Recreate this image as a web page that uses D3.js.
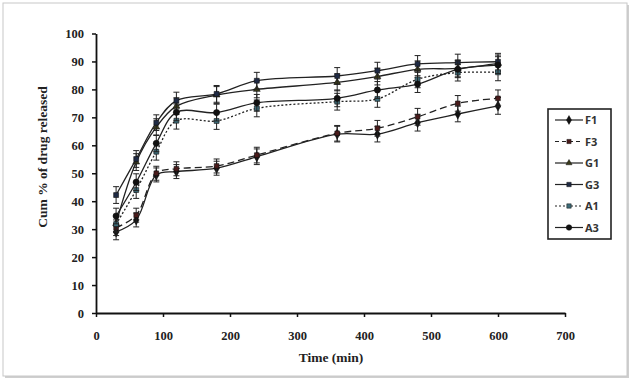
<!DOCTYPE html>
<html><head><meta charset="utf-8">
<script src="https://cdn.jsdelivr.net/npm/d3@7/dist/d3.min.js"></script>
<style>body{margin:0;background:#fff}svg{display:block}</style>
</head><body><svg id="c" width="633" height="380"></svg>
<script>
const times = [30, 60, 90, 120, 180, 240, 360, 420, 480, 540, 600];
const seriesNames = ["F1", "F3", "G1", "G3", "A1", "A3"];
const F1 = [29.0, 33.3, 49.4, 50.6, 51.8, 55.9, 64.0, 64.0, 68.1, 71.2, 74.1];
const F3 = [30.5, 35.0, 50.0, 51.6, 52.6, 56.5, 64.3, 66.1, 70.2, 75.0, 76.8];
const G1 = [32.0, 54.0, 66.5, 74.0, 78.0, 80.0, 82.5, 84.6, 87.2, 87.5, 89.3];
const G3 = [42.2, 55.1, 68.1, 76.0, 78.4, 83.1, 84.8, 86.7, 89.1, 89.6, 89.9];
const A1 = [31.8, 44.0, 57.7, 68.8, 68.7, 73.2, 75.6, 76.6, 83.6, 86.0, 86.1];
const A3 = [34.7, 46.8, 60.7, 71.8, 71.7, 75.2, 76.8, 79.8, 81.9, 87.2, 88.7];
const errF1 = [2.8, 2.5, 2.5, 2.5, 2.5, 2.8, 2.8, 2.8, 3.0, 2.8, 3.0];
const errF3 = [2.8, 2.5, 2.5, 2.5, 2.5, 2.8, 2.8, 2.8, 3.0, 2.8, 3.0];
const errG1 = [3.0, 3.0, 3.0, 3.0, 3.0, 3.0, 3.0, 3.0, 3.0, 3.0, 3.0];
const errG3 = [3.0, 3.0, 2.8, 3.0, 3.0, 3.0, 3.0, 3.0, 3.0, 3.0, 3.0];
const errA1 = [2.8, 3.0, 3.0, 3.0, 3.0, 3.0, 3.0, 3.0, 3.0, 3.0, 3.0];
const errA3 = [2.8, 3.0, 3.0, 3.0, 3.0, 3.0, 3.0, 3.0, 3.0, 3.0, 3.0];
const xTicks = [0, 100, 200, 300, 400, 500, 600, 700];
const yTicks = [0, 10, 20, 30, 40, 50, 60, 70, 80, 90, 100];

const values = [F1, F3, G1, G3, A1, A3];
const errors = [errF1, errF3, errG1, errG3, errA1, errA3];
const styles = [
  {sym: d3.symbolDiamond, size: 28, fill: "#111", dash: null},
  {sym: d3.symbolSquare, size: 22, fill: "#4a1c1c", dash: "7,4"},
  {sym: d3.symbolTriangle, size: 20, fill: "#3a3a1a", dash: null},
  {sym: d3.symbolSquare, size: 24, fill: "#1f2a44", dash: null},
  {sym: d3.symbolSquare, size: 24, fill: "#3d6b78", dash: "2,2"},
  {sym: d3.symbolCircle, size: 30, fill: "#111", dash: null}
];

const svg = d3.select("#c");
// frame with shadow
svg.append("rect").attr("x", 5).attr("y", 5).attr("width", 624).attr("height", 373).attr("fill", "#cfcfcf");
svg.append("rect").attr("x", 3).attr("y", 3).attr("width", 624).attr("height", 373)
  .attr("fill", "#fff").attr("stroke", "#c8c8c8").attr("stroke-width", 1);

const x = d3.scaleLinear().domain([0, 700]).range([96, 565]);
const y = d3.scaleLinear().domain([0, 100]).range([313, 33.5]);

const fontSerif = "'Liberation Serif', 'Times New Roman', serif";

const gx = svg.append("g").attr("transform", `translate(0,${y(0)})`)
  .call(d3.axisBottom(x).tickValues(xTicks).tickSize(4).tickSizeOuter(0).tickPadding(14));
const gy = svg.append("g").attr("transform", `translate(${x(0)},0)`)
  .call(d3.axisLeft(y).tickValues(yTicks).tickSize(4).tickSizeOuter(0).tickPadding(8));
[gx, gy].forEach(g => {
  g.select(".domain").attr("stroke", "#111").attr("stroke-width", 1.8);
  g.selectAll(".tick line").attr("stroke", "#111").attr("stroke-width", 1.5);
  g.selectAll(".tick text").attr("font-family", fontSerif).attr("font-weight", "bold")
    .attr("font-size", 12.5).attr("fill", "#222");
});

svg.append("text").attr("x", 331).attr("y", 362).attr("text-anchor", "middle")
  .attr("font-family", fontSerif).attr("font-weight", "bold").attr("font-size", 13.5)
  .attr("fill", "#222").text("Time (min)");
svg.append("text").attr("transform", "translate(47,157) rotate(-90)").attr("text-anchor", "middle")
  .attr("font-family", fontSerif).attr("font-weight", "bold").attr("font-size", 13.5)
  .attr("fill", "#222").text("Cum % of drug released");

const line = d3.line().x((d, i) => x(times[i])).y(d => y(d)).curve(d3.curveCatmullRom.alpha(0.5));

const plot = svg.append("g");
values.forEach((vals, si) => {
  const st = styles[si];
  const g = plot.append("g");
  g.append("path").datum(vals).attr("d", line).attr("fill", "none")
    .attr("stroke", "#222").attr("stroke-width", 1.3)
    .attr("stroke-dasharray", st.dash);
  const errs = errors[si];
  vals.forEach((v, i) => {
    const cx = x(times[i]);
    const y1 = y(v + errs[i]), y2 = y(v - errs[i]);
    g.append("line").attr("x1", cx).attr("x2", cx).attr("y1", y1).attr("y2", y2)
      .attr("stroke", "#222").attr("stroke-width", 1);
    [y1, y2].forEach(yy => g.append("line").attr("x1", cx - 3).attr("x2", cx + 3)
      .attr("y1", yy).attr("y2", yy).attr("stroke", "#222").attr("stroke-width", 1));
  });
  g.selectAll("path.m").data(vals).enter().append("path").attr("class", "m")
    .attr("d", d3.symbol().type(st.sym).size(st.size))
    .attr("transform", (d, i) => `translate(${x(times[i])},${y(d)})`)
    .attr("fill", st.fill).attr("stroke", "#111").attr("stroke-width", 0.6);
});

// legend
const lg = svg.append("g");
lg.append("rect").attr("x", 548).attr("y", 109).attr("width", 63).attr("height", 130)
  .attr("fill", "#fff").attr("stroke", "#222").attr("stroke-width", 1.6);
seriesNames.forEach((name, i) => {
  const st = styles[i];
  const yy = 120 + i * 21.5;
  lg.append("line").attr("x1", 555).attr("x2", 583).attr("y1", yy).attr("y2", yy)
    .attr("stroke", "#222").attr("stroke-width", 1.2).attr("stroke-dasharray", st.dash ? (st.dash === "2,2" ? "2,2" : "4,3") : null);
  lg.append("path").attr("d", d3.symbol().type(st.sym).size(st.size * 0.8))
    .attr("transform", `translate(569,${yy})`).attr("fill", st.fill).attr("stroke", "#111").attr("stroke-width", 0.5);
  lg.append("text").attr("x", 585).attr("y", yy + 4).attr("font-family", "'Open Sans', 'Liberation Sans', sans-serif")
    .attr("font-weight", "bold").attr("font-size", 11).attr("fill", "#333").text(name);
});
</script></body></html>
